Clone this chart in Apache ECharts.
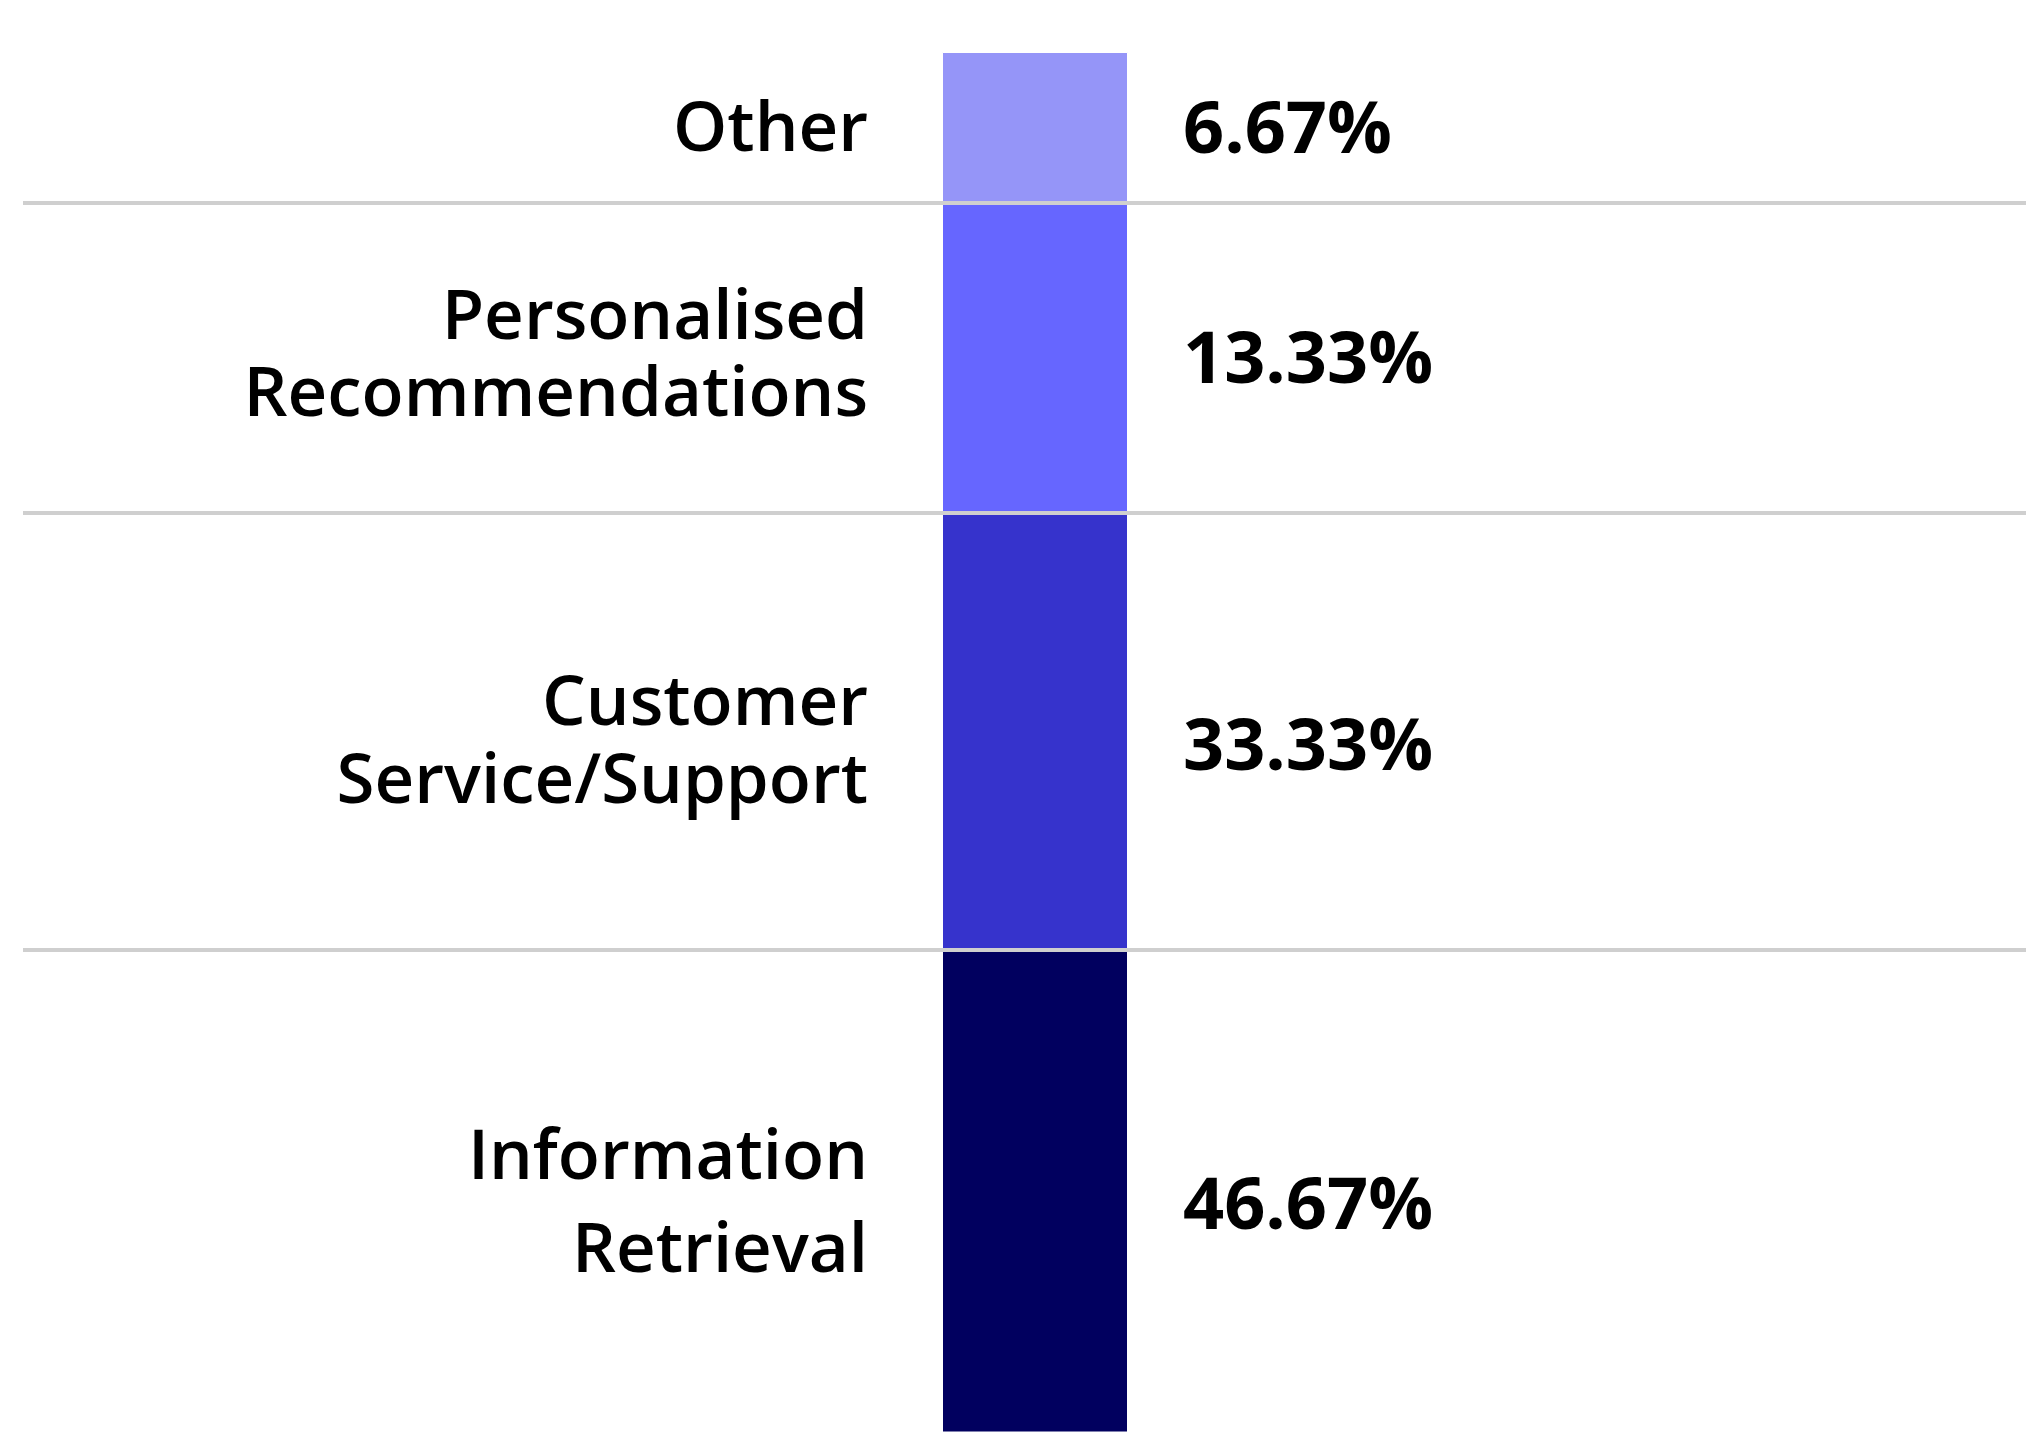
<!DOCTYPE html>
<html>
<head>
<meta charset="utf-8">
<script src="https://cdn.jsdelivr.net/npm/echarts@6/dist/echarts.min.js"></script>
<style>
  html, body { margin: 0; padding: 0; background: #fff; }
  #myChart { width: 2026px; height: 1432px; }
</style>
</head>
<body>
<div id="myChart"></div>
<script>
// segments listed bottom -> top (stack order)
const categories = ['Information\nRetrieval', 'Customer\nService/Support', 'Personalised\nRecommendations', 'Other'];
const shares = [46.67, 33.33, 13.33, 6.67];          // printed percentages
const spans = [35.63, 31.33, 22.22, 10.82];          // segment length as drawn in the picture (% of bar)
const colors = ['#01005f', '#3633cc', '#6666ff', '#9595f8'];

// cumulative boundaries between segments, for the separator lines
let acc = 0;
const bounds = [];
spans.slice(0, -1).forEach(v => { acc += v; bounds.push(+acc.toFixed(2)); });

const font = '"Open Sans", "Noto Sans", sans-serif';
const lineHeights = [93, 78, 77, 60];
const nameOffsets = [15, 13, 0, 4];
const pctOffsets = [17, 18, 5, 5];

// the bar runs a little past the bottom edge of the picture
const yMin = 1.075;

let Chart = echarts.init(document.getElementById('myChart'));

const series = [];
// separator lines across the whole width
series.push({
  type: 'line', xAxisIndex: 0, yAxisIndex: 0, data: [], silent: true,
  markLine: {
    symbol: 'none', silent: true, z: 10,
    label: { show: false },
    lineStyle: { color: '#cfcfcf', width: 4, type: 'solid' },
    data: bounds.map(b => ({ yAxis: b }))
  }
});
categories.forEach((c, i) => {
  // visible segment with its percentage on the right
  series.push({
    name: c, type: 'bar', stack: 'bar', xAxisIndex: 1, yAxisIndex: 1,
    barWidth: '100%', animation: false,
    itemStyle: { color: colors[i], borderColor: '#fff', borderWidth: 1 },
    label: {
      show: true, position: 'right', distance: 55,
      offset: [0, pctOffsets[i]],
      formatter: shares[i].toFixed(2) + '%',
      fontFamily: font, fontWeight: 'bold', fontSize: 72, color: '#000'
    },
    data: [spans[i]]
  });
  // invisible twin carrying the category name on the left
  series.push({
    name: c + '_name', type: 'bar', stack: 'names', xAxisIndex: 1, yAxisIndex: 1,
    barWidth: '100%', barGap: '-100%', animation: false, silent: true,
    itemStyle: { color: 'rgba(0,0,0,0)' },
    label: {
      show: true, position: 'left', distance: 74,
      offset: [0, nameOffsets[i]],
      formatter: c, align: 'right',
      fontFamily: font, fontWeight: 600, fontSize: 69, lineHeight: lineHeights[i], color: '#000'
    },
    data: [spans[i]]
  });
});

Chart.setOption({
  backgroundColor: '#fff',
  grid: [
    { left: 23, right: 0, top: 52, bottom: 0 },
    { left: 942, width: 186, top: 52, bottom: 0 }
  ],
  xAxis: [
    { gridIndex: 0, type: 'category', data: ['x'], show: false },
    { gridIndex: 1, type: 'category', data: ['x'], show: false }
  ],
  yAxis: [
    { gridIndex: 0, type: 'value', min: yMin, max: 100, show: false },
    { gridIndex: 1, type: 'value', min: yMin, max: 100, show: false }
  ],
  series: series
}, true);
</script>
</body>
</html>
